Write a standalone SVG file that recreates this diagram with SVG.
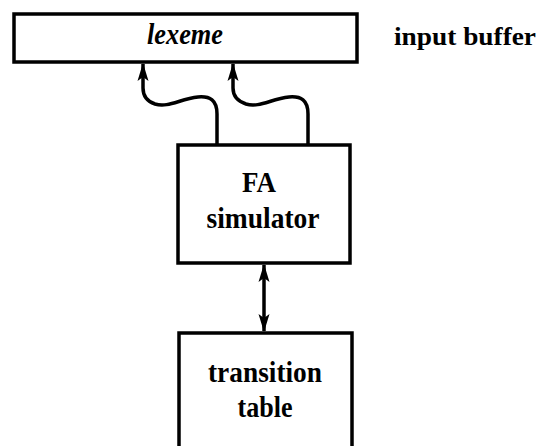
<svg xmlns="http://www.w3.org/2000/svg" width="538" height="446" viewBox="0 0 538 446">
  <style>
    .box { fill: #ffffff; stroke: #000000; stroke-width: 3.5; }
    .conn { fill: none; stroke: #000000; stroke-width: 3.5; }
    .lbl { font-family: "Liberation Serif", "Times New Roman", serif; font-weight: bold; fill: #000000; text-anchor: middle; }
    .ital { font-family: "Liberation Serif", "Times New Roman", serif; font-style: italic; font-weight: bold; fill: #000000; text-anchor: middle; }
  </style>
  <defs>
    <marker id="arrow" viewBox="0 0 18 12" refX="17" refY="6" markerWidth="18" markerHeight="12" markerUnits="userSpaceOnUse" orient="auto-start-reverse">
      <path d="M0,0.5 L18,6 L0,11.5 L4,6 Z" fill="#000000"/>
    </marker>
  </defs>
  <rect width="538" height="446" fill="#ffffff"/>

  <g id="input-buffer">
    <rect class="box" x="14" y="14" width="343" height="48"/>
    <text class="ital" x="185" y="44" font-size="29" textLength="76" lengthAdjust="spacingAndGlyphs">lexeme</text>
  </g>
  <g id="input-buffer-label">
    <text class="lbl" x="465" y="45" font-size="26" textLength="142" lengthAdjust="spacingAndGlyphs">input buffer</text>
  </g>

  <g id="fa-simulator">
    <rect class="box" x="178" y="145" width="172" height="118"/>
    <text class="lbl" x="259" y="192" font-size="29" textLength="34" lengthAdjust="spacingAndGlyphs">FA</text>
    <text class="lbl" x="263" y="228" font-size="29" textLength="113" lengthAdjust="spacingAndGlyphs">simulator</text>
  </g>

  <g id="transition-table">
    <rect class="box" x="179" y="333" width="173" height="130"/>
    <text class="lbl" x="265" y="382" font-size="29" textLength="114" lengthAdjust="spacingAndGlyphs">transition</text>
    <text class="lbl" x="265" y="417" font-size="29" textLength="55" lengthAdjust="spacingAndGlyphs">table</text>
  </g>

  <g id="connectors">
    <path class="conn" d="M217,145 V114 C217,100 210,96 198,97 C180,99 168,108 155,104 C146,101 143,95 143,88 V64" marker-end="url(#arrow)"/>
    <path class="conn" d="M308,145 V114 C308,100 301,96 289,97 C271,99 259,108 246,104 C237,101 233,95 233,88 V64" marker-end="url(#arrow)"/>
    <line class="conn" x1="264" y1="265" x2="264" y2="331" marker-start="url(#arrow)" marker-end="url(#arrow)"/>
  </g>
</svg>
